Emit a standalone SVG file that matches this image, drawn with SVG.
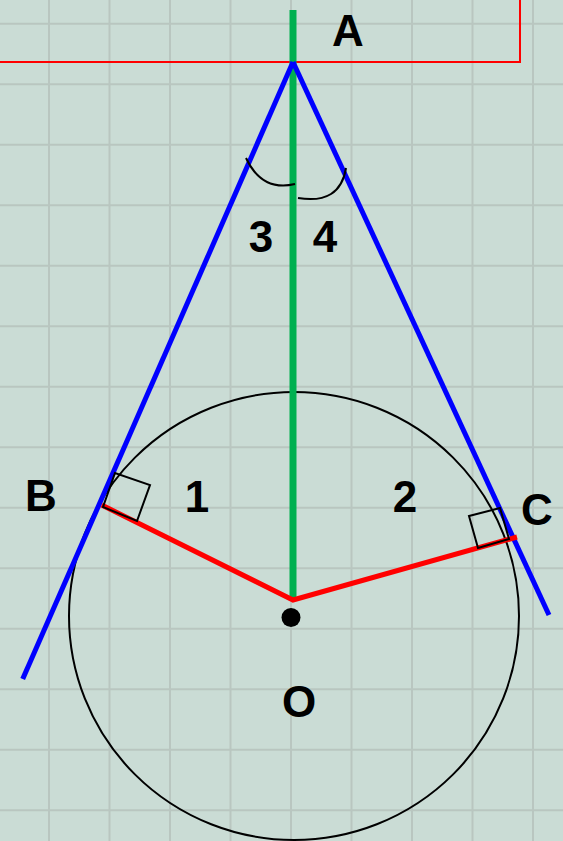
<svg xmlns="http://www.w3.org/2000/svg" width="563" height="841" viewBox="0 0 563 841">
<style>
.lbl{font-family:"Liberation Sans",Arial,sans-serif;font-weight:bold;font-size:44px;fill:#000;text-anchor:middle}
.thin{fill:none;stroke:#000;stroke-width:2}
</style>
<rect x="0" y="0" width="563" height="841" fill="#cadcd5"/>
<g id="grid" stroke="#b9c6c0" stroke-width="2" fill="none">
<path d="M49 0V841M109.5 0V841M170 0V841M230.5 0V841M291 0V841M351.5 0V841M412 0V841M472.5 0V841M533 0V841"/>
<path d="M0 23.7H563M0 84.2H563M0 144.7H563M0 205.2H563M0 265.7H563M0 326.2H563M0 386.7H563M0 447.2H563M0 507.7H563M0 568.2H563M0 628.7H563M0 689.2H563M0 749.7H563M0 810.2H563"/>
</g>
<g id="frame"><polyline points="0,62 520,62 520,0" fill="none" stroke="#ff0000" stroke-width="2"/></g>
<g id="circle"><ellipse cx="294" cy="616" rx="225" ry="224" class="thin"/></g>
<g id="connectors">
<line x1="293" y1="10" x2="293" y2="600" stroke="#00b050" stroke-width="7"/>
<line x1="293" y1="62" x2="22.7" y2="679" stroke="#0000ff" stroke-width="5"/>
<line x1="293" y1="62" x2="549" y2="615" stroke="#0000ff" stroke-width="5"/>
<polyline points="101.7,505 293,600 517,537" fill="none" stroke="#ff0000" stroke-width="5" stroke-linejoin="miter"/>
</g>
<g id="marks">
<polygon points="103,507 115,473 150,485 137,521" class="thin"/>
<polygon points="469,516 500,508 509,539 478,548" class="thin"/>
<path d="M246 158 Q262 192 295 184" class="thin"/>
<path d="M298 198 Q340 205 346 168" class="thin"/>
</g>
<g id="O"><circle cx="291" cy="617.5" r="9.5" fill="#000"/><text x="299" y="717" class="lbl">O</text></g>
<g id="A"><text x="348" y="46" class="lbl">A</text></g>
<g id="B"><text x="41" y="511" class="lbl">B</text></g>
<g id="C"><text x="537" y="525" class="lbl">C</text></g>
<g id="angle1"><text x="197" y="511.5" class="lbl">1</text></g>
<g id="angle2"><text x="405" y="511.5" class="lbl">2</text></g>
<g id="angle3"><text x="261" y="252" class="lbl">3</text></g>
<g id="angle4"><text x="325" y="252" class="lbl">4</text></g>
</svg>
